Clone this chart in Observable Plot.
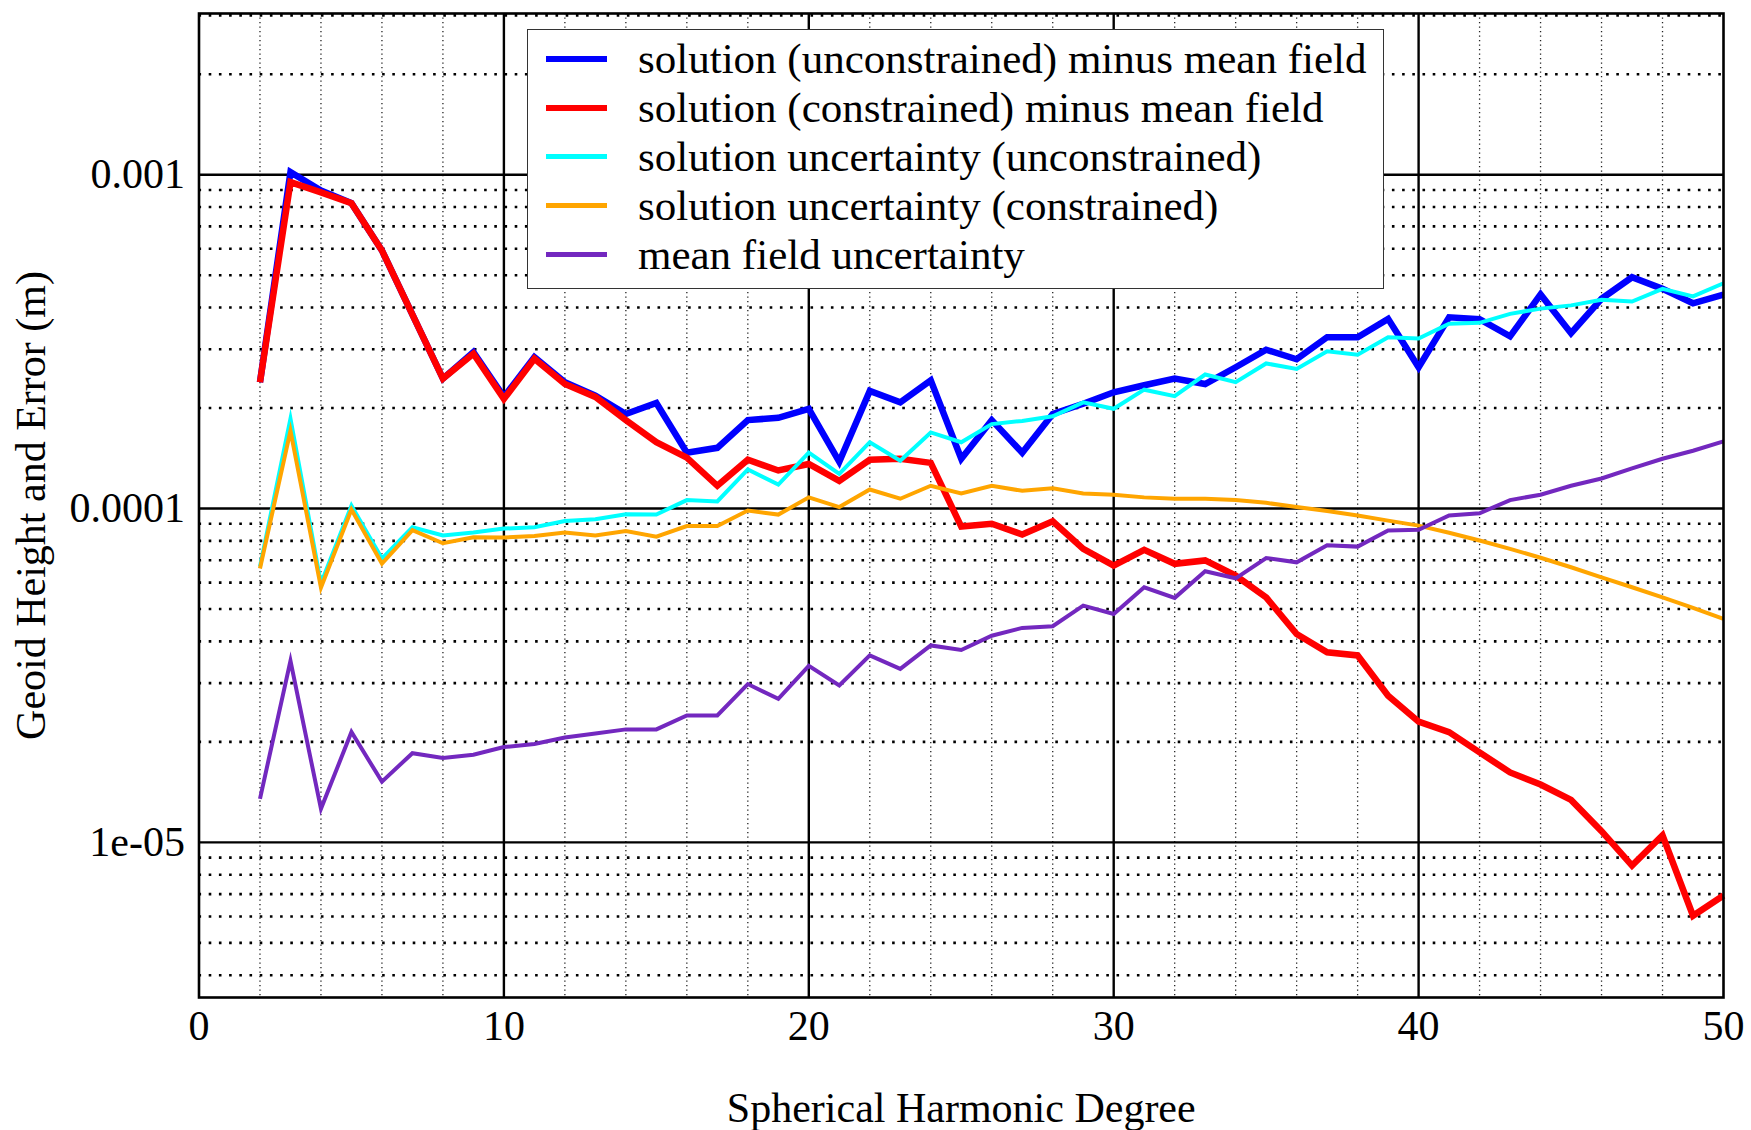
<!DOCTYPE html>
<html>
<head>
<meta charset="utf-8">
<script src="https://cdn.jsdelivr.net/npm/d3@7"></script>
<script src="https://cdn.jsdelivr.net/npm/@observablehq/plot@0.6"></script>
<style>
  html, body { margin: 0; padding: 0; background: #fff; }
  #wrap { position: relative; width: 1751px; height: 1130px; overflow: hidden; }
  #legend {
    position: absolute; left: 527px; top: 29px; width: 857px; height: 260px;
    box-sizing: border-box; border: 1.6px solid #333; background: #fff;
    font-family: "Liberation Serif", "Times New Roman", serif; font-size: 43px; color: #000;
    padding-top: 4px;
  }
  .row { height: 49px; display: flex; align-items: center; }
  .swatch { margin-left: 18px; width: 61px; margin-right: 31px; }
  .row span { white-space: nowrap; line-height: 49px; }
</style>
</head>
<body>
<div id="wrap">
  <div id="chart"></div>
  <div id="legend"></div>
</div>
<script>
// Spherical harmonic degree (x)
const degrees = [2,3,4,5,6,7,8,9,10,11,12,13,14,15,16,17,18,19,20,21,22,23,24,25,26,
  27,28,29,30,31,32,33,34,35,36,37,38,39,40,41,42,43,44,45,46,47,48,49,50];

// Series values (m), one per degree
const solUnconstrained = [2.39e-4,1.018e-3,8.97e-4,8.22e-4,5.93e-4,3.81e-4,2.45e-4,2.94e-4,2.16e-4,2.84e-4,
  2.39e-4,2.18e-4,1.92e-4,2.07e-4,1.47e-4,1.52e-4,1.84e-4,1.87e-4,1.99e-4,1.38e-4,
  2.25e-4,2.08e-4,2.42e-4,1.41e-4,1.84e-4,1.47e-4,1.92e-4,2.06e-4,2.23e-4,2.34e-4,
  2.45e-4,2.36e-4,2.65e-4,2.99e-4,2.80e-4,3.26e-4,3.26e-4,3.70e-4,2.65e-4,3.74e-4,
  3.69e-4,3.28e-4,4.38e-4,3.35e-4,4.25e-4,4.93e-4,4.55e-4,4.12e-4,4.37e-4];
const solConstrained = [2.39e-4,9.50e-4,8.85e-4,8.22e-4,5.93e-4,3.81e-4,2.45e-4,2.91e-4,2.13e-4,2.81e-4,
  2.36e-4,2.16e-4,1.84e-4,1.58e-4,1.42e-4,1.17e-4,1.40e-4,1.30e-4,1.36e-4,1.21e-4,
  1.40e-4,1.41e-4,1.37e-4,8.83e-5,9.00e-5,8.36e-5,9.16e-5,7.57e-5,6.75e-5,7.52e-5,
  6.83e-5,6.99e-5,6.30e-5,5.42e-5,4.21e-5,3.71e-5,3.63e-5,2.75e-5,2.30e-5,2.14e-5,
  1.86e-5,1.62e-5,1.49e-5,1.34e-5,1.08e-5,8.52e-6,1.05e-5,6.03e-6,6.93e-6];
const uncUnconstrained = [6.70e-5,1.86e-4,5.96e-5,1.02e-4,7.08e-5,8.79e-5,8.30e-5,8.48e-5,8.71e-5,8.79e-5,
  9.17e-5,9.29e-5,9.61e-5,9.60e-5,1.06e-4,1.05e-4,1.31e-4,1.18e-4,1.47e-4,1.27e-4,
  1.58e-4,1.39e-4,1.69e-4,1.58e-4,1.79e-4,1.83e-4,1.89e-4,2.08e-4,1.99e-4,2.27e-4,
  2.17e-4,2.52e-4,2.39e-4,2.72e-4,2.62e-4,2.96e-4,2.89e-4,3.26e-4,3.23e-4,3.58e-4,
  3.60e-4,3.83e-4,3.97e-4,4.06e-4,4.22e-4,4.17e-4,4.55e-4,4.32e-4,4.73e-4];
const uncConstrained = [6.61e-5,1.71e-4,5.80e-5,9.93e-5,6.84e-5,8.62e-5,7.87e-5,8.20e-5,8.19e-5,8.27e-5,
  8.48e-5,8.30e-5,8.56e-5,8.24e-5,8.86e-5,8.86e-5,9.86e-5,9.59e-5,1.08e-4,1.01e-4,
  1.14e-4,1.07e-4,1.17e-4,1.11e-4,1.17e-4,1.13e-4,1.15e-4,1.11e-4,1.10e-4,1.08e-4,
  1.07e-4,1.07e-4,1.06e-4,1.04e-4,1.01e-4,9.83e-5,9.53e-5,9.20e-5,8.89e-5,8.46e-5,
  8.02e-5,7.57e-5,7.12e-5,6.67e-5,6.22e-5,5.81e-5,5.42e-5,5.04e-5,4.67e-5];
const meanFieldUnc = [1.35e-5,3.50e-5,1.26e-5,2.14e-5,1.52e-5,1.85e-5,1.79e-5,1.83e-5,1.93e-5,1.97e-5,
  2.06e-5,2.12e-5,2.18e-5,2.18e-5,2.40e-5,2.40e-5,2.98e-5,2.69e-5,3.38e-5,2.95e-5,
  3.63e-5,3.31e-5,3.89e-5,3.77e-5,4.16e-5,4.39e-5,4.44e-5,5.12e-5,4.83e-5,5.81e-5,
  5.40e-5,6.49e-5,6.18e-5,7.11e-5,6.90e-5,7.76e-5,7.69e-5,8.59e-5,8.64e-5,9.53e-5,
  9.68e-5,1.06e-4,1.10e-4,1.17e-4,1.23e-4,1.32e-4,1.41e-4,1.49e-4,1.59e-4];

// Legend labels and colours
const seriesNames = [
  "solution (unconstrained) minus mean field",
  "solution (constrained) minus mean field",
  "solution uncertainty (unconstrained)",
  "solution uncertainty (constrained)",
  "mean field uncertainty"
];
const seriesColors = ["#0000ff", "#ff0000", "#00ffff", "#ffa500", "#7328bf"];
const seriesWidths = [6.5, 6.5, 4, 4, 4];
const seriesValues = [solUnconstrained, solConstrained, uncUnconstrained, uncConstrained, meanFieldUnc];

// Tick labels
const xTicks = [0, 10, 20, 30, 40, 50];
const xMinorTicks = [2,4,6,8,12,14,16,18,22,24,26,28,32,34,36,38,42,44,46,48];
const yTicks = [1e-3, 1e-4, 1e-5];
const yTickLabels = ["0.001", "0.0001", "1e-05"];

const yDomain = [3.43e-6, 3.04e-3];
const yMinorTicks = d3.scaleLog().domain(yDomain).ticks()
  .filter(v => !yTicks.some(t => Math.abs(v / t - 1) < 1e-6));

const rows = [];
seriesValues.forEach((vals, si) => {
  vals.forEach((v, i) => rows.push({deg: degrees[i], value: v, s: si}));
});

const lineMarks = seriesValues.map((vals, si) =>
  Plot.line(rows.filter(r => r.s === si), {
    x: "deg", y: "value",
    stroke: seriesColors[si], strokeWidth: seriesWidths[si],
    strokeLinejoin: "miter", strokeMiterlimit: 10, strokeLinecap: "butt"
  })
);

const chart = Plot.plot({
  width: 1751,
  height: 1130,
  marginLeft: 198.5,
  marginRight: 28,
  marginTop: 13,
  marginBottom: 133,
  style: {fontFamily: '"Liberation Serif", "Times New Roman", serif', fontSize: "42px", background: "#fff", color: "#000"},
  x: {domain: [0, 50], ticks: xTicks, tickSize: 0, tickPadding: 13, label: "Spherical Harmonic Degree",
      labelAnchor: "center", labelOffset: 124, labelArrow: "none", tickFormat: d => String(d)},
  y: {type: "log", domain: yDomain, ticks: yTicks, tickSize: 0, tickPadding: 14,
      tickFormat: d => yTickLabels[yTicks.findIndex(t => Math.abs(d / t - 1) < 1e-6)],
      label: "Geoid Height and Error (m)", labelAnchor: "center", labelOffset: 184, labelArrow: "none"},
  marks: [
    Plot.ruleY(yMinorTicks, {stroke: "#000", strokeWidth: 2.6, strokeDasharray: "2.6,7.6"}),
    Plot.ruleX(xMinorTicks, {stroke: "#222", strokeWidth: 1.3, strokeDasharray: "1.3,3.2"}),
    Plot.ruleY(yTicks, {stroke: "#000", strokeWidth: 2.4}),
    Plot.ruleX([10, 20, 30, 40], {stroke: "#000", strokeWidth: 2.4}),
    ...lineMarks,
    Plot.frame({stroke: "#000", strokeWidth: 2.6})
  ]
});
document.getElementById("chart").appendChild(chart);

// Legend overlay
const legend = document.getElementById("legend");
seriesNames.forEach((name, i) => {
  const row = document.createElement("div");
  row.className = "row";
  const sw = document.createElement("div");
  sw.className = "swatch";
  sw.style.height = (i < 2 ? 6 : 4.5) + "px";
  sw.style.background = seriesColors[i];
  const label = document.createElement("span");
  label.textContent = name;
  row.appendChild(sw);
  row.appendChild(label);
  legend.appendChild(row);
});
</script>
</body>
</html>
